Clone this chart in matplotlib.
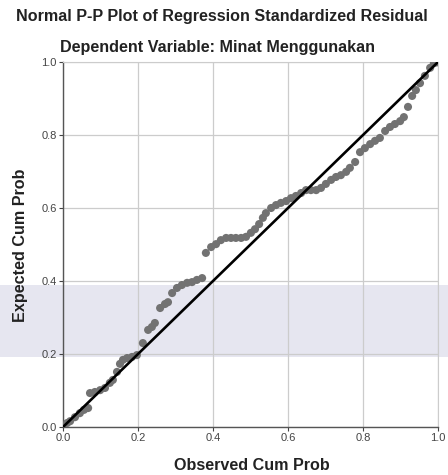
import matplotlib
matplotlib.use('Agg')
import matplotlib.pyplot as plt
from matplotlib.patches import Rectangle

plt.rcParams['font.family'] = ['Liberation Sans', 'DejaVu Sans']

# Observed cum prob (x) and expected cum prob (y)
observed = [0.003, 0.011, 0.019, 0.032, 0.045, 0.056, 0.067, 0.072, 0.085, 0.099,
            0.112, 0.125, 0.133, 0.144, 0.152, 0.160, 0.171, 0.184, 0.197, 0.213,
            0.227, 0.237, 0.245, 0.259, 0.272, 0.280, 0.291, 0.304, 0.317, 0.331,
            0.344, 0.357, 0.371, 0.381, 0.395, 0.408, 0.421, 0.435, 0.448, 0.461,
            0.475, 0.488, 0.501, 0.512, 0.523, 0.533, 0.541, 0.555, 0.568, 0.581,
            0.595, 0.608, 0.621, 0.635, 0.648, 0.661, 0.675, 0.688, 0.701, 0.715,
            0.728, 0.741, 0.755, 0.765, 0.779, 0.792, 0.805, 0.819, 0.832, 0.845,
            0.859, 0.872, 0.885, 0.899, 0.909, 0.920, 0.931, 0.941, 0.952, 0.965,
            0.979, 0.989, 0.997]
expected = [0.003, 0.011, 0.016, 0.027, 0.038, 0.047, 0.052, 0.093, 0.096, 0.101,
            0.107, 0.121, 0.129, 0.151, 0.173, 0.184, 0.189, 0.192, 0.197, 0.230,
            0.266, 0.274, 0.285, 0.326, 0.337, 0.342, 0.367, 0.381, 0.389, 0.395,
            0.397, 0.403, 0.408, 0.477, 0.493, 0.501, 0.512, 0.518, 0.518, 0.518,
            0.518, 0.521, 0.532, 0.542, 0.556, 0.573, 0.586, 0.600, 0.608, 0.614,
            0.619, 0.627, 0.633, 0.641, 0.649, 0.649, 0.649, 0.655, 0.666, 0.677,
            0.685, 0.690, 0.699, 0.710, 0.726, 0.753, 0.764, 0.775, 0.784, 0.792,
            0.811, 0.822, 0.830, 0.838, 0.849, 0.877, 0.907, 0.923, 0.942, 0.962,
            0.984, 0.997, 0.999]

ticks = [0.0, 0.2, 0.4, 0.6, 0.8, 1.0]
tick_labels = ['0.0', '0.2', '0.4', '0.6', '0.8', '1.0']

fig = plt.figure(figsize=(4.48, 4.75), dpi=100)

# faint lavender watermark band behind the chart
band = Rectangle((0, 0.248), 1, 0.153, transform=fig.transFigure,
                 facecolor='#e6e6f0', edgecolor='none', zorder=-1)
fig.add_artist(band)

ax = fig.add_axes([0.1406, 0.101, 0.8371, 0.7685])
ax.set_facecolor('none')

ax.scatter(observed, expected, s=34, color='#727272', edgecolors='none', zorder=3)
ax.plot([0, 1], [0, 1], color='black', linewidth=1.9, zorder=4)

ax.set_xlim(0, 1)
ax.set_ylim(0, 1)
ax.set_xticks(ticks)
ax.set_yticks(ticks)
ax.set_xticklabels(tick_labels)
ax.set_yticklabels(tick_labels)
ax.tick_params(axis='both', labelsize=8, colors='#444444', length=3, width=0.8, pad=1.5)
ax.grid(True, color='#cccccc', linewidth=0.9)
ax.set_axisbelow(True)

for side in ['top', 'right']:
    ax.spines[side].set_color('#cccccc')
for side in ['left', 'bottom']:
    ax.spines[side].set_color('#555555')
    ax.spines[side].set_linewidth(1.0)

title_kw = dict(fontsize=11.6, fontweight='bold', color='#222222', ha='center', va='center')
fig.text(0.496, 0.966, 'Normal P-P Plot of Regression Standardized Residual', **title_kw)
fig.text(0.486, 0.901, 'Dependent Variable: Minat Menggunakan', **title_kw)
fig.text(0.5625, 0.021, 'Observed Cum Prob', **title_kw)
fig.text(0.045, 0.484, 'Expected Cum Prob', rotation=90, **title_kw)

fig.savefig('out.png', dpi=100)
